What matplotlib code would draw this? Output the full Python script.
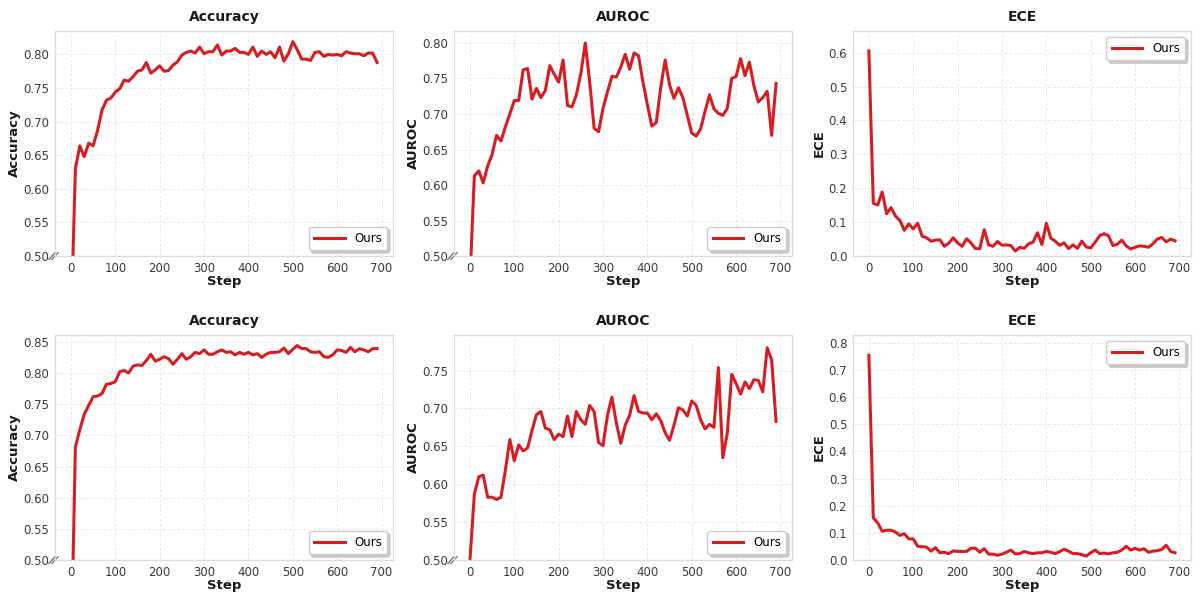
import numpy as np
import matplotlib
matplotlib.use("Agg")
import matplotlib.pyplot as plt

steps = list(range(0, 700, 10))

acc_top = [0.39, 0.630, 0.664, 0.648, 0.668, 0.664, 0.687, 0.717, 0.732, 0.735,
           0.744, 0.749, 0.762, 0.760, 0.767, 0.775, 0.777, 0.788, 0.772, 0.777,
           0.783, 0.775, 0.776, 0.784, 0.789, 0.799, 0.803, 0.805, 0.802, 0.811,
           0.801, 0.804, 0.804, 0.814, 0.799, 0.805, 0.805, 0.809, 0.803, 0.803,
           0.800, 0.811, 0.797, 0.805, 0.800, 0.804, 0.795, 0.811, 0.790, 0.801,
           0.819, 0.807, 0.793, 0.793, 0.791, 0.803, 0.804, 0.797, 0.800, 0.799,
           0.800, 0.798, 0.804, 0.802, 0.801, 0.801, 0.798, 0.802, 0.802, 0.788]

auroc_top = [0.463, 0.613, 0.620, 0.603, 0.627, 0.643, 0.670, 0.662, 0.682, 0.700,
             0.719, 0.719, 0.762, 0.764, 0.721, 0.736, 0.723, 0.733, 0.768, 0.756,
             0.745, 0.776, 0.712, 0.710, 0.727, 0.757, 0.800, 0.745, 0.680, 0.675,
             0.708, 0.731, 0.753, 0.752, 0.766, 0.784, 0.763, 0.786, 0.782, 0.745,
             0.713, 0.683, 0.688, 0.737, 0.776, 0.741, 0.722, 0.737, 0.723, 0.698,
             0.673, 0.669, 0.679, 0.704, 0.727, 0.707, 0.701, 0.698, 0.708, 0.750,
             0.753, 0.778, 0.754, 0.773, 0.740, 0.717, 0.723, 0.732, 0.670, 0.743]

ece_top = [0.605, 0.156, 0.151, 0.189, 0.125, 0.143, 0.118, 0.105, 0.076, 0.095,
           0.080, 0.097, 0.059, 0.054, 0.044, 0.047, 0.048, 0.029, 0.038, 0.054,
           0.039, 0.029, 0.051, 0.039, 0.022, 0.022, 0.078, 0.033, 0.029, 0.043,
           0.032, 0.033, 0.031, 0.015, 0.026, 0.023, 0.036, 0.041, 0.069, 0.034,
           0.097, 0.053, 0.044, 0.032, 0.039, 0.022, 0.033, 0.023, 0.044, 0.027,
           0.024, 0.041, 0.060, 0.066, 0.060, 0.031, 0.035, 0.047, 0.030, 0.021,
           0.026, 0.030, 0.029, 0.026, 0.036, 0.050, 0.055, 0.042, 0.050, 0.045]

acc_bot = [0.33, 0.681, 0.709, 0.734, 0.748, 0.762, 0.763, 0.767, 0.782, 0.783,
           0.786, 0.802, 0.804, 0.800, 0.811, 0.813, 0.812, 0.820, 0.830, 0.819,
           0.822, 0.826, 0.823, 0.814, 0.822, 0.831, 0.822, 0.826, 0.833, 0.831,
           0.837, 0.830, 0.830, 0.834, 0.837, 0.833, 0.834, 0.829, 0.833, 0.830,
           0.833, 0.829, 0.831, 0.825, 0.830, 0.833, 0.833, 0.834, 0.840, 0.831,
           0.838, 0.844, 0.839, 0.839, 0.834, 0.833, 0.834, 0.826, 0.825, 0.829,
           0.837, 0.836, 0.833, 0.841, 0.834, 0.839, 0.837, 0.834, 0.839, 0.839]

auroc_bot = [0.499, 0.587, 0.610, 0.612, 0.583, 0.583, 0.580, 0.583, 0.619, 0.659,
             0.631, 0.652, 0.644, 0.648, 0.671, 0.692, 0.696, 0.674, 0.672, 0.659,
             0.666, 0.663, 0.690, 0.663, 0.696, 0.685, 0.679, 0.704, 0.696, 0.655,
             0.651, 0.691, 0.715, 0.681, 0.654, 0.678, 0.691, 0.717, 0.696, 0.694,
             0.694, 0.685, 0.693, 0.684, 0.668, 0.658, 0.678, 0.701, 0.698, 0.690,
             0.710, 0.704, 0.685, 0.673, 0.679, 0.675, 0.754, 0.635, 0.667, 0.745,
             0.733, 0.719, 0.735, 0.726, 0.738, 0.737, 0.722, 0.780, 0.764, 0.683]

ece_bot = [0.753, 0.155, 0.137, 0.106, 0.110, 0.110, 0.103, 0.091, 0.097, 0.078,
           0.078, 0.051, 0.049, 0.048, 0.033, 0.046, 0.027, 0.029, 0.024, 0.034,
           0.032, 0.032, 0.032, 0.044, 0.044, 0.029, 0.042, 0.022, 0.022, 0.018,
           0.022, 0.029, 0.037, 0.023, 0.024, 0.032, 0.027, 0.024, 0.027, 0.027,
           0.032, 0.029, 0.024, 0.031, 0.040, 0.033, 0.024, 0.024, 0.020, 0.015,
           0.027, 0.037, 0.024, 0.026, 0.023, 0.027, 0.029, 0.037, 0.051, 0.037,
           0.043, 0.037, 0.042, 0.029, 0.033, 0.035, 0.039, 0.055, 0.032, 0.027]

titles = ["Accuracy", "AUROC", "ECE"]
series = [[acc_top, auroc_top, ece_top], [acc_bot, auroc_bot, ece_bot]]
ylims = [[(0.5, 0.835), (0.5, 0.817), (0.0, 0.664)],
         [(0.5, 0.861), (0.5, 0.797), (0.0, 0.828)]]
legend_label = "Ours"
line_color = "#d61e22"

plt.rcParams["font.family"] = ["DejaVu Sans"]

fig, axes = plt.subplots(2, 3, figsize=(12, 5.94), dpi=100)
fig.subplots_adjust(left=0.0458, right=0.9925, top=0.948, bottom=0.057,
                    wspace=0.18, hspace=0.35)

for r in range(2):
    for c in range(3):
        ax = axes[r][c]
        ax.plot(steps, series[r][c], color=line_color, lw=2.2, label=legend_label)
        ax.set_ylim(*ylims[r][c])
        ax.set_xlim(-36, 726)
        ax.set_xticks([0, 100, 200, 300, 400, 500, 600, 700])
        if c == 2:
            ax.yaxis.set_major_formatter(matplotlib.ticker.FormatStrFormatter("%.1f"))
            ax.set_yticks(np.arange(0, ylims[r][c][1], 0.1))
        else:
            ax.yaxis.set_major_formatter(matplotlib.ticker.FormatStrFormatter("%.2f"))
            ax.set_yticks(np.arange(0.5, ylims[r][c][1], 0.05))
        ax.set_title(titles[c], fontsize=10, fontweight="bold", color="#1a1a1a", pad=7)
        ax.set_xlabel("Step", fontsize=9.5, fontweight="bold", color="#1a1a1a", labelpad=0)
        ax.set_ylabel(titles[c], fontsize=9.5, fontweight="bold", color="#1a1a1a", labelpad=2)
        ax.grid(True, color="#e8e8e8", linestyle=(0, (3, 2)), linewidth=0.7)
        ax.set_axisbelow(True)
        for s in ax.spines.values():
            s.set_color("#dddddd")
            s.set_linewidth(1.0)
        ax.tick_params(axis="both", length=0, labelsize=8.5, colors="#3a3a3a")
        ax.tick_params(axis="y", pad=4)
        ax.tick_params(axis="x", pad=4)
        loc = "upper right" if c == 2 else "lower right"
        leg = ax.legend(loc=loc, fontsize=8.5, frameon=True, fancybox=True,
                        shadow={"color": "#b0b0b0", "alpha": 0.6},
                        borderpad=0.45, handlelength=2.6)
        leg.get_frame().set_edgecolor("#cccccc")
        leg.get_frame().set_facecolor("white")
        if c != 2:
            for off in (0.0, 0.009):
                ax.plot([-0.018 + off, 0.0 + off], [-0.015, 0.015],
                        transform=ax.transAxes, color="#666666", lw=0.9, clip_on=False)

fig.savefig("out.png", dpi=100)
